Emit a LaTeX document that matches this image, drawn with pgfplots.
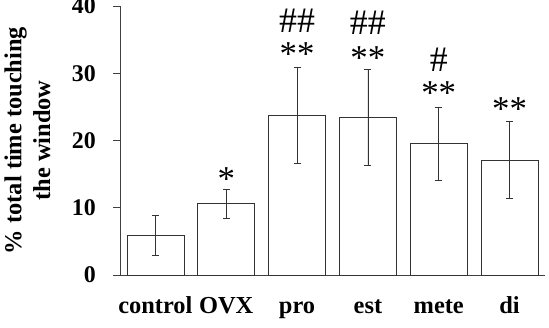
\documentclass[border=0pt]{standalone}
\usepackage{fontspec}
\setmainfont{Liberation Serif}
\usepackage{pgfplots}
\usetikzlibrary{arrows.meta}
\pgfplotsset{compat=1.18}
\begin{document}
\begin{tikzpicture}
\useasboundingbox (-120bp,-53bp) rectangle (429bp,275bp);
\fontsize{24}{29}\selectfont
\begin{axis}[
  scale only axis,
  width=425bp, height=269bp,
  xmin=-0.5, xmax=5.5,
  ymin=0, ymax=40,
  axis x line=bottom, axis y line=left,
  axis line style={-, line width=0.9pt, black!75},
  ytick={0,10,20,30,40},
  xtick=data,
  xticklabels={control,OVX,pro,est,mete,di},
  x tick label style={font=\fontsize{24.5}{29}\selectfont\bfseries, anchor=base, yshift=-31.5bp},
  y tick label style={font=\fontsize{24}{29}\selectfont\bfseries, xshift=-9bp},
  /pgf/number format/assume math mode=true,
  tick align=outside,
  ytick style={line width=0.9pt, black!75},
  major tick length=7bp,
  xtick style={draw=none},
  ylabel={\% total time touching\\the window},
  ylabel style={font=\fontsize{24.5}{29}\selectfont\bfseries, align=center, at={(axis description cs:-0.218,0.5)}, anchor=center},
  clip=false,
]
\addplot[ybar, bar width=0.805, fill=white, draw=black!80, line width=0.8pt,
  error bars/.cd, y dir=both, y explicit, error mark=none,
  error bar style={line width=0.8pt, black!80, -{Bar[width=7bp]}}]
  coordinates {
  (0,5.9) +- (0,3.0)
  (1,10.6) +- (0,2.2)
  (2,23.7) +- (0,7.2)
  (3,23.4) +- (0,7.2)
  (4,19.5) +- (0,5.5)
  (5,17.1) +- (0,5.8)
  };
\begin{scope}[every node/.style={font=\fontsize{35}{38}\selectfont, inner sep=0pt}]
\node at (axis cs:1,14.3) {*};
\node at (axis cs:2,32.8) {**};
\node at (axis cs:3,32.3) {**};
\node at (axis cs:4,27.0) {**};
\node at (axis cs:5,24.6) {**};
\end{scope}
\begin{scope}[every node/.style={font=\fontsize{36}{40}\selectfont, inner sep=0pt}]
\node at (axis cs:2,37.8) {\#\#};
\node at (axis cs:3,37.5) {\#\#};
\node at (axis cs:4,32.0) {\#};
\end{scope}
\end{axis}
\end{tikzpicture}
\end{document}
